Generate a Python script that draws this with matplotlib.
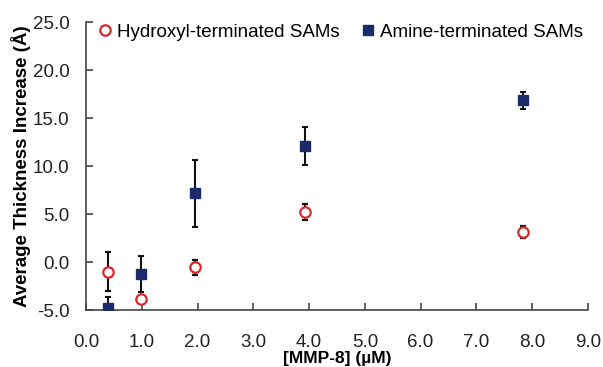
import matplotlib
matplotlib.use("Agg")
import matplotlib.pyplot as plt

plt.rcParams['font.family'] = ['Liberation Sans', 'DejaVu Sans']

conc = [0.40, 0.98, 1.96, 3.92, 7.84]
hydroxyl = [-1.0, -3.85, -0.55, 5.2, 3.15]
hydroxyl_err = [2.0, 0.3, 0.8, 0.8, 0.6]
amine = [-4.75, -1.25, 7.15, 12.1, 16.85]
amine_err = [1.1, 1.85, 3.5, 2.0, 0.9]

xticks = [0.0, 1.0, 2.0, 3.0, 4.0, 5.0, 6.0, 7.0, 8.0, 9.0]
yticks = [-5.0, 0.0, 5.0, 10.0, 15.0, 20.0, 25.0]

fig = plt.figure(figsize=(6.03, 3.67), dpi=100)
ax = fig.add_axes([0.1426, 0.1553, 0.975 - 0.1426, 0.940 - 0.1553])

ax.errorbar(conc, hydroxyl, yerr=hydroxyl_err, fmt='o', mfc='white', mec='#D8282E',
            mew=1.6, ms=7.5, ecolor='#111111', elinewidth=1.5, capsize=2.2, capthick=1.5,
            label='Hydroxyl-terminated SAMs', zorder=3)
ax.errorbar(conc, amine, yerr=amine_err, fmt='s', mfc='#1B2A6B', mec='#1B2A6B',
            ms=7, ecolor='#111111', elinewidth=1.5, capsize=2.2, capthick=1.5,
            label='Amine-terminated SAMs', zorder=3)

ax.set_xlim(0, 9.0)
ax.set_ylim(-5, 25)
ax.set_xticks(xticks)
ax.set_xticklabels([f"{v:.1f}" for v in xticks])
ax.set_yticks(yticks)
ax.set_yticklabels([f"{v:.1f}" for v in yticks])
for s in ['top', 'right']:
    ax.spines[s].set_visible(False)
for s in ['left', 'bottom']:
    ax.spines[s].set_color('#444444')
    ax.spines[s].set_linewidth(1.2)
ax.tick_params(axis='both', direction='in', length=5, width=1.2, color='#444444',
               labelsize=13.5, labelcolor='#222222')
ax.tick_params(axis='x', pad=17)
ax.tick_params(axis='y', pad=12)

ax.set_xlabel('[MMP-8] (µM)', fontsize=12.5, fontweight='bold', labelpad=0)
ax.set_ylabel('Average Thickness Increase (Å)', fontsize=13.5, fontweight='bold', labelpad=1)

handles, labels = ax.get_legend_handles_labels()
handles = [h[0] for h in handles]
ax.legend(handles, labels, loc='upper left', bbox_to_anchor=(0.005, 1.02), ncol=2,
          frameon=False, fontsize=13.5, handletextpad=0.1, handlelength=1.0,
          columnspacing=1.05, borderaxespad=0.0)

fig.savefig('out.png', dpi=100)
